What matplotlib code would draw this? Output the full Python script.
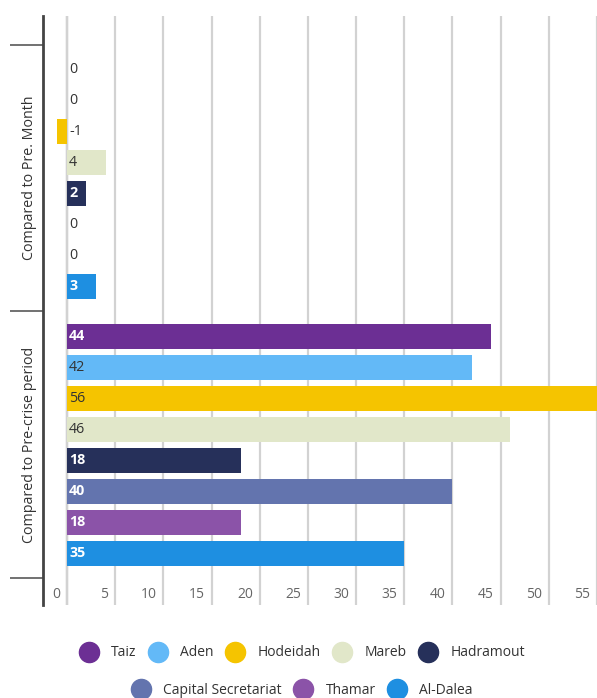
import matplotlib
matplotlib.use("Agg")
import matplotlib.pyplot as plt
import matplotlib.transforms as mtransforms
from matplotlib.lines import Line2D

plt.rcParams['font.family'] = ['Open Sans', 'DejaVu Sans']

# data
regions = ['Taiz', 'Aden', 'Hodeidah', 'Mareb', 'Hadramout',
           'Capital Secretariat', 'Thamar', 'Al-Dalea']
colors = ['#6c2f94', '#63b9f7', '#f5c400', '#e1e7c9', '#26305a',
          '#6374ae', '#8b53a8', '#1e8fe1']
groups = ['Compared to Pre. Month', 'Compared to Pre-crise period']
pre_month = [0, 0, -1, 4, 2, 0, 0, 3]
pre_crisis = [44, 42, 56, 46, 18, 40, 18, 35]
x_ticks = [0, 5, 10, 15, 20, 25, 30, 35, 40, 45, 50, 55]

# white labels on dark bars
light_label = [True, False, False, False, True, True, True, True]

fig = plt.figure(figsize=(5.97, 6.98), dpi=100)
W, H = 597, 698
ax = fig.add_axes([43 / W, 1 - 605 / H, (597 - 43) / W, (605 - 16) / H])

slot = 0.1161
bar_h = 0.092
n = len(regions)
values = [pre_month, pre_crisis]

for g, vals in enumerate(values):
    for i, v in enumerate(vals):
        y = g + (i - (n - 1) / 2) * slot
        ax.barh(y, v, height=bar_h, color=colors[i], zorder=3)
        white = light_label[i] and v != 0 and (g == 1 or v > 1)
        off = mtransforms.offset_copy(ax.transData, fig=fig, x=2, y=0, units='dots')
        ax.text(0, y, str(v), transform=off, ha='left', va='center',
                fontsize=10.3, color='white' if white else '#333333',
                fontweight='bold' if white else 'normal', zorder=4)

ax.set_xlim(-2.5, 54.75)
ax.set_ylim(1.6, -0.607)

# gridlines + inside tick labels
ax.set_xticks(x_ticks)
ax.tick_params(axis='x', length=0, labelbottom=False)
ax.grid(axis='x', color='#d2d2d2', linewidth=1.6, zorder=0)
ax.axvline(0, color='#a8a8a8', linewidth=1.6, zorder=1)
lab_tr = mtransforms.blended_transform_factory(ax.transData, ax.transAxes)
lab_tr = lab_tr + mtransforms.ScaledTranslation(-7 / 100, 0, fig.dpi_scale_trans)
for t in x_ticks:
    ax.text(t, 10 / 589, str(t), transform=lab_tr, ha='right', va='center',
            fontsize=10, color='#666666', zorder=4)

# group separators and labels on the category axis
ax.set_yticks([-0.5, 0.5, 1.5])
ax.set_yticklabels([])
ax.tick_params(axis='y', which='major', length=24, width=1.3, color='#666666')
ax.set_yticks([0, 1], minor=True)
ax.set_yticklabels(groups, minor=True, rotation=90, va='center',
                   fontsize=10.3, color='#333333')
ax.tick_params(axis='y', which='minor', length=0, pad=4.5)

for s in ['top', 'right', 'bottom']:
    ax.spines[s].set_visible(False)
ax.spines['left'].set_color('#444444')
ax.spines['left'].set_linewidth(2)

# legend in two centred rows
handles = [Line2D([], [], marker='o', linestyle='none', markersize=14.5,
                  markerfacecolor=c, markeredgecolor=c) for c in colors]
kw = dict(frameon=False, fontsize=10, handlelength=1.4, handletextpad=0.9,
          columnspacing=0.85, labelcolor='#333333', borderaxespad=0)
leg1 = fig.legend(handles[:5], regions[:5], ncol=5, loc='center',
                  bbox_to_anchor=(302 / W, 1 - 653 / H), **kw)
fig.legend(handles[5:], regions[5:], ncol=3, loc='center',
           bbox_to_anchor=(302 / W, 1 - 690 / H), **kw)

fig.savefig('out.png', dpi=100)
